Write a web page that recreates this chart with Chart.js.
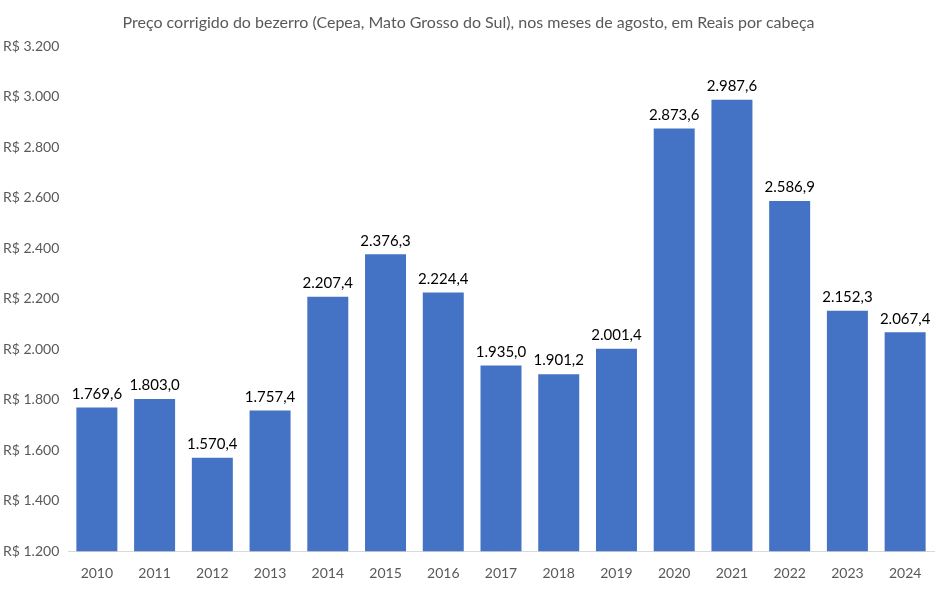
<!DOCTYPE html>
<html>
<head>
<meta charset="utf-8">
<script src="https://cdn.jsdelivr.net/npm/chart.js@4"></script>
<style>
  html, body { margin: 0; padding: 0; background: #fff; }
  #wrap { width: 949px; height: 590px; }
</style>
</head>
<body>
<div id="wrap"><canvas id="chart" width="949" height="590"></canvas></div>
<script>
const years = ['2010', '2011', '2012', '2013', '2014', '2015', '2016', '2017', '2018', '2019', '2020', '2021', '2022', '2023', '2024'];
const prices = [1769.6, 1803.0, 1570.4, 1757.4, 2207.4, 2376.3, 2224.4, 1935.0, 1901.2, 2001.4, 2873.6, 2987.6, 2586.9, 2152.3, 2067.4];
const yMin = 1200;
const yMax = 3200;
const yStep = 200;

function fmtThousands(v) {
    return Math.round(v).toString().replace(/\B(?=(\d{3})+(?!\d))/g, '.');
}
function fmtLabel(v) {
    return v.toFixed(1).replace('.', ',').replace(/\B(?=(\d{3})+(?!\d))/g, '.');
}

// rótulos de dados acima das barras
const barLabels = {
    id: 'barLabels',
    afterDatasetsDraw(chart) {
        const ctx = chart.ctx;
        const meta = chart.getDatasetMeta(0);
        ctx.save();
        ctx.font = '15px Lato';
        ctx.fillStyle = '#000';
        ctx.textAlign = 'center';
        ctx.textBaseline = 'bottom';
        meta.data.forEach((bar, i) => {
            ctx.fillText(fmtLabel(prices[i]), bar.x, bar.y - 6);
        });
        ctx.restore();
    }
};

new Chart(document.getElementById('chart'), {
    type: 'bar',
    data: {
        labels: years,
        datasets: [{
            data: prices,
            backgroundColor: '#4472C4',
            categoryPercentage: 1.0,
            barPercentage: 0.71
        }]
    },
    options: {
        responsive: false,
        animation: false,
        layout: { padding: { left: 3, right: 15, top: 13, bottom: 2 } },
        plugins: {
            legend: { display: false },
            tooltip: { enabled: false },
            title: {
                display: true,
                text: 'Preço corrigido do bezerro (Cepea, Mato Grosso do Sul), nos meses de agosto, em Reais por cabeça',
                color: '#595959',
                font: { family: 'Lato', size: 16, weight: 'normal' },
                padding: { top: 0, bottom: 14 }
            }
        },
        scales: {
            y: {
                min: yMin,
                max: yMax,
                ticks: {
                    stepSize: yStep,
                    color: '#595959',
                    font: { family: 'Lato', size: 14 },
                    padding: 8,
                    crossAlign: 'far',
                    callback: v => 'R$ ' + fmtThousands(v)
                },
                grid: { display: false },
                border: { display: false },
                afterFit(scale) { scale.width = 65; }
            },
            x: {
                ticks: {
                    color: '#595959',
                    font: { family: 'Lato', size: 14 },
                    padding: 6
                },
                grid: { display: false },
                border: { display: true, color: '#d9d9d9', width: 1 }
            }
        }
    },
    plugins: [barLabels]
});
</script>
</body>
</html>
